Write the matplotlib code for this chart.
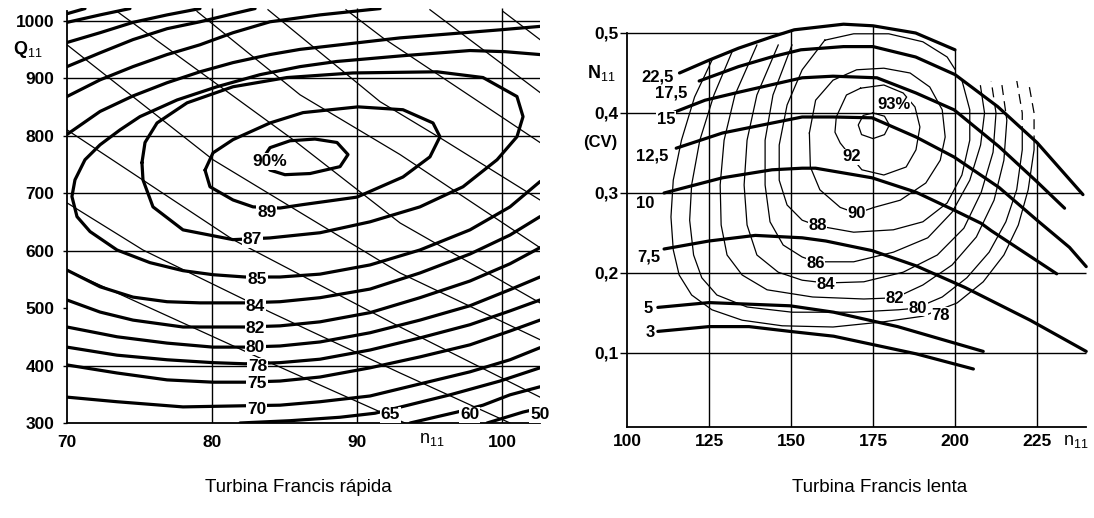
import numpy as np
import matplotlib
matplotlib.use("Agg")
import matplotlib.pyplot as plt
from matplotlib.patches import Polygon

plt.rcParams['font.family'] = ['Liberation Sans', 'DejaVu Sans']
plt.rcParams['mathtext.fontset'] = 'custom'
plt.rcParams['mathtext.rm'] = 'Liberation Sans'
plt.rcParams['mathtext.bf'] = 'Liberation Sans:bold'

# ===================== LEFT: Turbina Francis rápida =====================
left_xticks = [70, 80, 90, 100]
left_yticks = [300, 400, 500, 600, 700, 800, 900, 1000]
left_hgrid = [400, 600, 700, 800, 900, 1000]
left_vgrid = [80, 90, 100]

# closed efficiency contours (n11, Q11)
e90_n = [83.45, 84.0, 85.38, 87.10, 88.62, 89.38, 88.83, 86.76, 85.03, 84.0, 83.45]
e90_q = [758, 779, 791, 794, 788, 767, 746, 734, 732, 740, 758]
e89_n = [79.52, 80.07, 81.45, 84.0, 86.28, 90.07, 93.17, 95.24, 95.72, 95.03, 93.17, 90.0,
         86.28, 84.69, 82.83, 81.45, 79.86, 79.52]
e89_q = [740, 770, 793, 822, 840, 850, 845, 822, 798, 763, 728, 693, 680, 674, 676, 688, 711, 740]
e87_n = [75.17, 75.38, 76.21, 78.28, 81.45, 85.17, 89.72, 95.52, 98.69, 101.03, 101.45, 101.03,
         99.66, 97.31, 94.34, 90.90, 87.45, 84.0, 81.45, 78.0, 75.93, 75.24, 75.17]
e87_q = [753, 788, 822, 857, 885, 901, 909, 911, 901, 868, 833, 798, 758, 711, 676, 650, 631,
         622, 619, 636, 676, 723, 753]
e85_n = [102.62, 100.21, 97.79, 93.17, 88.62, 86.07, 83.31, 80.34, 77.59, 75.03, 73.66, 72.28,
         71.24, 70.55, 70.34, 70.69, 71.59, 73.45, 75.72, 78.0, 80.07, 82.28, 84.69, 87.45,
         90.90, 94.34, 97.79, 100.55, 102.62]
e85_q = [941, 946, 948, 939, 929, 920, 906, 885, 862, 833, 810, 784, 758, 723, 694, 659, 633,
         601, 579, 565, 558, 554, 554, 559, 575, 601, 636, 676, 720]

# open contours: upper branch and lower branch
e84_up_n = [102.62, 99.86, 96.41, 92.97, 89.52, 86.07, 84.0, 81.45, 79.17, 76.90, 74.55, 72.28, 70.0]
e84_up_q = [990, 984, 977, 970, 960, 950, 941, 927, 911, 892, 869, 842, 802]
e84_lo_n = [70.0, 72.28, 74.55, 76.90, 79.17, 82.28, 84.69, 87.45, 90.90, 94.34, 97.79, 100.55, 102.62]
e84_lo_q = [566, 537, 519, 511, 509, 509, 511, 518, 533, 561, 594, 627, 659]
e82_up_n = [91.59, 87.45, 84.0, 81.45, 79.17, 76.90, 74.55, 72.28, 70.0]
e82_up_q = [1021, 1010, 998, 979, 958, 941, 920, 897, 868]
e82_lo_n = [70.0, 72.28, 74.55, 78.0, 82.28, 84.69, 87.45, 90.90, 94.34, 97.79, 100.55, 102.62]
e82_lo_q = [514, 493, 479, 467, 467, 469, 476, 492, 518, 547, 577, 605]
e80_up_n = [82.97, 81.45, 79.17, 76.90, 74.55, 72.28, 70.0]
e80_up_q = [1021, 1012, 998, 986, 967, 944, 920]
e80_lo_n = [70.0, 73.45, 76.90, 80.07, 82.28, 84.69, 87.45, 90.90, 94.34, 97.79, 100.55, 102.62]
e80_lo_q = [467, 450, 439, 432, 432, 434, 441, 457, 479, 504, 532, 554]
e78_up_n = [79.17, 76.90, 74.55, 72.28, 70.0]
e78_up_q = [1021, 1010, 997, 979, 962]
e78_lo_n = [70.0, 73.45, 76.90, 80.07, 82.28, 84.69, 87.45, 90.90, 94.34, 97.79, 100.55, 102.62]
e78_lo_q = [432, 418, 410, 405, 403, 405, 411, 427, 448, 471, 495, 514]
e75_up_n = [74.34, 72.28, 70.0]
e75_up_q = [1021, 1010, 997]
e75_lo_n = [70.0, 73.45, 76.90, 80.07, 82.28, 84.69, 87.45, 90.90, 94.34, 97.79, 100.55, 102.62]
e75_lo_q = [401, 387, 375, 371, 371, 373, 380, 396, 415, 436, 460, 479]
e70_up_n = [71.24, 70.0]
e70_up_q = [1021, 1012]
e70_lo_n = [70.0, 73.45, 78.0, 82.28, 84.69, 87.45, 90.90, 94.34, 97.79, 100.55, 102.62]
e70_lo_q = [345, 337, 328, 330, 331, 337, 347, 368, 389, 410, 431]
e65_n = [81.93, 85.38, 88.83, 91.24, 93.52, 96.41, 99.86, 102.62]
e65_q = [300, 304, 310, 317, 331, 349, 373, 396]
e60_n = [93.66, 96.90, 98.69, 100.55, 102.62]
e60_q = [300, 319, 331, 349, 363]
e50_n = [98.97, 101.45, 102.3]
e50_q = [300, 319, 324]

# thin oblique lines
thin_a_n = [100.07, 102.62]
thin_a_q = [1016, 967]
thin_b_n = [95.03, 102.62]
thin_b_q = [1019, 875]
thin_c_n = [89.24, 91.79, 102.62]
thin_c_q = [1019, 970, 788]
thin_d_n = [83.86, 91.59, 95.93, 102.62]
thin_d_q = [1019, 859, 793, 688]
thin_e_n = [78.97, 86.07, 92.97, 102.62]
thin_e_q = [1016, 871, 767, 605]
thin_f_n = [73.45, 85.59, 92.97, 102.62]
thin_f_q = [1016, 793, 648, 509]
thin_g_n = [70.0, 80.07, 92.97, 102.62]
thin_g_q = [958, 758, 561, 445]
thin_h_n = [70.0, 81.45, 92.97, 102.62]
thin_h_q = [810, 619, 467, 345]
thin_i_n = [70.0, 75.24, 84.0, 92.97, 100.55]
thin_i_q = [683, 601, 493, 387, 300]
thin_j_n = [70.0, 84.0, 93.31]
thin_j_q = [566, 405, 300]

left_labels = ["90%", "89", "87", "85", "84", "82", "80", "78", "75", "70", "65", "60", "50"]
left_lab_n = [84.0, 83.79, 82.76, 83.1, 82.97, 82.97, 82.97, 83.17, 83.1, 83.1, 92.28, 97.79, 102.62]
left_lab_q = [755, 667, 619, 549, 502, 465, 432, 398, 368, 323, 314, 314, 314]

# ===================== RIGHT: Turbina Francis lenta =====================
right_xticks = [100, 125, 150, 175, 200, 225]
right_yticks = [0.1, 0.2, 0.3, 0.4, 0.5]

# power curves N11 (CV) vs n11
p225_n = [116, 125, 134, 144, 151, 166, 175, 188, 200]
p225_N = [0.450, 0.466, 0.481, 0.495, 0.504, 0.511, 0.509, 0.500, 0.479]
p175_n = [122, 134, 144, 153, 166, 175, 188, 200, 213, 225, 239]
p175_N = [0.440, 0.458, 0.470, 0.479, 0.483, 0.483, 0.470, 0.448, 0.408, 0.363, 0.298]
p15_n = [114.4, 123.8, 134.1, 153.4, 162.8, 176.2, 188.1, 199.7, 213.4, 225, 233.4]
p15_N = [0.401, 0.416, 0.426, 0.444, 0.446, 0.444, 0.425, 0.404, 0.358, 0.314, 0.281]
p125_n = [115, 129.1, 153.4, 162.8, 174.7, 188.1, 199.7, 213.4, 225, 234.9, 240]
p125_N = [0.356, 0.375, 0.395, 0.395, 0.394, 0.370, 0.345, 0.307, 0.266, 0.232, 0.208]
p10_n = [111.3, 129.1, 144.2, 153.4, 157.5, 174.7, 188.1, 200, 208, 211, 231]
p10_N = [0.300, 0.319, 0.329, 0.331, 0.331, 0.319, 0.301, 0.278, 0.262, 0.253, 0.199]
p75_n = [111.3, 125, 139.1, 153.4, 160.6, 174.7, 188.1, 203, 222.9, 240]
p75_N = [0.230, 0.240, 0.247, 0.244, 0.240, 0.228, 0.209, 0.182, 0.141, 0.102]
p5_n = [109.4, 125, 149.7, 163, 182.5, 208.6]
p5_N = [0.157, 0.163, 0.159, 0.151, 0.133, 0.102]
p3_n = [109.4, 125, 137.2, 149.7, 163, 188.1, 205.6]
p3_N = [0.127, 0.133, 0.133, 0.127, 0.121, 0.099, 0.080]
power_labels = ["22,5", "17,5", "15", "12,5", "10", "7,5", "5", "3"]
power_lab_n = [109.4, 113.4, 111.9, 107.8, 105.6, 106.6, 106.3, 107.2]
power_lab_N = [0.445, 0.425, 0.392, 0.346, 0.287, 0.220, 0.156, 0.126]

# efficiency rings
r93_n = [175, 178.5, 180, 178.5, 175, 171.5, 170.5, 172, 175]
r93_N = [0.400, 0.396, 0.385, 0.373, 0.368, 0.373, 0.385, 0.397, 0.400]
r92_n = [171.2, 166.9, 163.8, 163.4, 165.0, 168.4, 171.6, 178.3, 185.1, 188.1, 189.3, 187.8,
         184.2, 178.3, 171.2]
r92_N = [0.431, 0.4225, 0.395, 0.376, 0.3625, 0.345, 0.329, 0.3225, 0.3325, 0.354, 0.3825,
         0.4075, 0.425, 0.435, 0.431]
r90_n = [155.6, 157.5, 162.8, 170.0, 178.3, 186.3, 192.3, 196.1, 197.0, 195.5, 191.1, 183.3,
         175.3, 170.0, 165.0, 158.8, 155.9, 155.6]
r90_N = [0.375, 0.416, 0.441, 0.454, 0.456, 0.450, 0.4325, 0.404, 0.370, 0.341, 0.3125, 0.291,
         0.282, 0.2745, 0.282, 0.304, 0.3325, 0.375]
r88_n = [160.3, 153.4, 148.8, 146.4, 146.4, 148.8, 153.4, 158.1, 169.1, 181.2, 190.2, 197.6,
         202.1, 204.5, 204.5, 202.1, 197.6, 190.2, 179.8, 169.1, 160.3]
r88_N = [0.491, 0.454, 0.410, 0.360, 0.316, 0.285, 0.266, 0.259, 0.251, 0.254, 0.264, 0.2875,
         0.3225, 0.366, 0.404, 0.441, 0.470, 0.489, 0.499, 0.499, 0.491]
r86_n = [150.3, 144.5, 142.1, 142.1, 143.6, 147.6, 153.4, 157.5, 169.1, 181.2, 191.7, 199.1,
         204.5, 207.8, 209.0, 207.5, 203.6, 197.6, 190.2]
r86_N = [0.485, 0.4225, 0.366, 0.310, 0.264, 0.235, 0.220, 0.214, 0.214, 0.226, 0.244, 0.276,
         0.316, 0.360, 0.400, 0.441, 0.4725, 0.4975, 0.514]
r84_n = [146.1, 139.6, 136.6, 135.7, 136.6, 139.6, 146.1, 153.4, 160.6, 172.2, 184.2, 194.6,
         202.7, 208.0, 211.6, 212.5, 211.0, 207.5, 202.1]
r84_N = [0.485, 0.4225, 0.366, 0.310, 0.260, 0.2225, 0.201, 0.191, 0.1875, 0.189, 0.201, 0.2225,
         0.256, 0.301, 0.351, 0.400, 0.441, 0.479, 0.510]
r82_n = [139.6, 132.9, 129.6, 128.4, 128.7, 130.5, 135.1, 142.7, 156.6, 172.2, 181.8, 190.2,
         199.1, 206.5, 211.9, 214.9, 215.8, 214.3, 211.0, 205.7]
r82_N = [0.485, 0.4225, 0.366, 0.310, 0.260, 0.2225, 0.1975, 0.179, 0.170, 0.1675, 0.169, 0.185,
         0.210, 0.245, 0.291, 0.341, 0.391, 0.435, 0.4725, 0.504]
r80_n = [132.9, 126.5, 122.2, 119.7, 119.1, 120.3, 122.8, 127.4, 136.6, 150.3, 169.1, 182.7,
         188.1, 196.1, 203.6, 210.4, 215.5, 218.8, 220.5, 220.5, 218.8, 214.9, 209.5]
r80_N = [0.485, 0.4225, 0.366, 0.310, 0.266, 0.2225, 0.194, 0.1725, 0.1575, 0.151, 0.151, 0.154,
         0.156, 0.170, 0.194, 0.226, 0.264, 0.304, 0.354, 0.400, 0.441, 0.479, 0.510]
r78_n = [127.4, 120.6, 116.6, 114.1, 113.4, 114.1, 115.9, 119.7, 125.9, 135.1, 147.3, 162.8,
         178.3, 190.2, 200.6, 208.6, 214.9, 219.3, 222.3, 224.1, 224.1, 222.3, 218.4, 212.5]
r78_N = [0.479, 0.420, 0.366, 0.316, 0.270, 0.229, 0.1975, 0.1725, 0.154, 0.141, 0.134, 0.1325,
         0.139, 0.146, 0.1625, 0.189, 0.2225, 0.260, 0.304, 0.354, 0.400, 0.441, 0.479, 0.510]
ring_labels = ["93%", "92", "90", "88", "86", "84", "82", "80", "78"]
ring_lab_n = [181.3, 168.4, 170.0, 158.1, 157.5, 160.6, 181.5, 188.7, 195.5]
ring_lab_N = [0.410, 0.345, 0.274, 0.259, 0.212, 0.186, 0.168, 0.156, 0.147]

# ---------------------------------------------------------------------
K = 'black'
THICK = 2.3
THIN = 0.9
GRID = 1.0
LABFS = 12.5

fig = plt.figure(figsize=(10.94, 5.18), dpi=100)
fig.patch.set_facecolor('white')

# ------------------------- left chart -------------------------------
axL = fig.add_axes([0.06124, 0.18340, 0.43236, 0.80116])
axL.set_xlim(70, 102.62)
axL.set_ylim(300, 1022)
for s in ['top', 'right']:
    axL.spines[s].set_visible(False)
for s in ['left', 'bottom']:
    axL.spines[s].set_linewidth(1.3)
axL.spines['left'].set_bounds(300, 1017)
axL.hlines(left_hgrid, 70, 102.62, color=K, lw=GRID)
axL.vlines(left_vgrid, 300, 1022, color=K, lw=GRID)

thin_lines = [(thin_a_n, thin_a_q), (thin_b_n, thin_b_q), (thin_c_n, thin_c_q),
              (thin_d_n, thin_d_q), (thin_e_n, thin_e_q), (thin_f_n, thin_f_q),
              (thin_g_n, thin_g_q), (thin_h_n, thin_h_q), (thin_i_n, thin_i_q),
              (thin_j_n, thin_j_q)]
for xs, ys in thin_lines:
    axL.plot(xs, ys, color=K, lw=THIN, solid_joinstyle='round')

left_curves = [(e90_n, e90_q), (e89_n, e89_q), (e87_n, e87_q), (e85_n, e85_q),
               (e84_up_n, e84_up_q), (e84_lo_n, e84_lo_q),
               (e82_up_n, e82_up_q), (e82_lo_n, e82_lo_q),
               (e80_up_n, e80_up_q), (e80_lo_n, e80_lo_q),
               (e78_up_n, e78_up_q), (e78_lo_n, e78_lo_q),
               (e75_up_n, e75_up_q), (e75_lo_n, e75_lo_q),
               (e70_up_n, e70_up_q), (e70_lo_n, e70_lo_q),
               (e65_n, e65_q), (e60_n, e60_q), (e50_n, e50_q)]
for xs, ys in left_curves:
    axL.plot(xs, ys, color=K, lw=THICK, solid_capstyle='round', solid_joinstyle='round')

for t, x, y in zip(left_labels, left_lab_n, left_lab_q):
    axL.text(x, y, t, ha='center', va='center', fontsize=LABFS, fontweight='bold',
             bbox=dict(fc='white', ec='none', pad=0.6), zorder=6, clip_on=False)

axL.set_xticks(left_xticks)
axL.set_xticklabels([str(v) for v in left_xticks], fontsize=LABFS, fontweight='bold')
axL.set_yticks(left_yticks)
axL.set_yticklabels([str(v) for v in left_yticks], fontsize=LABFS, fontweight='bold')
axL.tick_params(axis='x', length=0, pad=9)
axL.tick_params(axis='y', length=3, width=1, pad=6)
fig.text(28 / 1094, 1 - 50 / 518, r'$\mathbf{Q}_{\mathregular{11}}$', fontsize=13,
         ha='center', va='center')
fig.text(432 / 1094, 1 - 440 / 518, r'$\mathregular{n_{11}}$', fontsize=13,
         ha='center', va='center')

# ------------------------- right chart ------------------------------
axR = fig.add_axes([0.57313, 0.17568, 0.42276, 0.78533])
axR.set_xlim(100, 241)
axR.set_ylim(0.0075, 0.516)
for s in ['top', 'right']:
    axR.spines[s].set_visible(False)
for s in ['left', 'bottom']:
    axR.spines[s].set_linewidth(1.3)
axR.spines['left'].set_bounds(0.0075, 0.5)
axR.spines['bottom'].set_bounds(100, 240)


def first_cross(xs, ys, level):
    for i in range(len(xs) - 1):
        if (ys[i] - level) * (ys[i + 1] - level) <= 0 and ys[i] != ys[i + 1]:
            t = (level - ys[i]) / (ys[i + 1] - ys[i])
            return xs[i] + t * (xs[i + 1] - xs[i])
    return None


# grid lines bounded by the envelope
for x in right_xticks[1:]:
    if x <= 200:
        top = np.interp(x, p225_n, p225_N)
    else:
        top = np.interp(x, p175_n, p175_N)
    axR.vlines(x, 0.0075, top, color=K, lw=GRID)
for y in right_yticks:
    if y >= 0.5:
        xe = first_cross(p225_n, p225_N, y)
    else:
        xe = first_cross(p175_n[5:], p175_N[5:], y)
    if xe is None:
        xe = 240
    axR.hlines(y, 100, xe, color=K, lw=GRID)

# clip regions for the efficiency rings
N175_at200 = np.interp(200, p175_n, p175_N)
tail = [(a, b) for a, b in zip(p175_n, p175_N) if a > 200]
solid_verts = ([(100, 0.0), (100, 0.45)] + list(zip(p225_n, p225_N)) +
               [(200, N175_at200)] + tail + [(241, 0.298), (241, 0.0)])
dash_verts = [(200, N175_at200)] + tail + [(241, 0.298), (241, 0.44), (200, 0.44)]
solid_clip = Polygon(solid_verts, closed=True, transform=axR.transData)
dash_clip = Polygon(dash_verts, closed=True, transform=axR.transData)

rings = [(r93_n, r93_N), (r92_n, r92_N), (r90_n, r90_N), (r88_n, r88_N), (r86_n, r86_N),
         (r84_n, r84_N), (r82_n, r82_N), (r80_n, r80_N), (r78_n, r78_N)]
for xs, ys in rings:
    ln, = axR.plot(xs, ys, color=K, lw=THIN)
    ln.set_clip_path(solid_clip)
    ld, = axR.plot(xs, ys, color=K, lw=THIN, ls=(0, (8, 5)))
    ld.set_clip_path(dash_clip)

power_curves = [(p225_n, p225_N), (p175_n, p175_N), (p15_n, p15_N), (p125_n, p125_N),
                (p10_n, p10_N), (p75_n, p75_N), (p5_n, p5_N), (p3_n, p3_N)]
for xs, ys in power_curves:
    axR.plot(xs, ys, color=K, lw=THICK, solid_capstyle='round', solid_joinstyle='round',
             zorder=4)

for t, x, y in zip(power_labels, power_lab_n, power_lab_N):
    axR.text(x, y, t, ha='center', va='center', fontsize=12, fontweight='bold',
             bbox=dict(fc='white', ec='none', pad=0.4), zorder=6)
for t, x, y in zip(ring_labels, ring_lab_n, ring_lab_N):
    axR.text(x, y, t, ha='center', va='center', fontsize=12, fontweight='bold',
             bbox=dict(fc='white', ec='none', pad=0.4), zorder=6)

axR.set_xticks(right_xticks)
axR.set_xticklabels([str(v) for v in right_xticks], fontsize=LABFS, fontweight='bold')
axR.set_yticks(right_yticks)
axR.set_yticklabels([('%.1f' % v).replace('.', ',') for v in right_yticks],
                    fontsize=LABFS, fontweight='bold')
axR.tick_params(axis='x', length=0, pad=5)
axR.tick_params(axis='y', length=5, width=1, pad=1)
fig.text(601 / 1094, 1 - 73 / 518, r'$\mathbf{N}_{\mathregular{11}}$', fontsize=13,
         ha='center', va='center')
fig.text(600 / 1094, 1 - 143 / 518, '(CV)', fontsize=12, fontweight='bold',
         ha='center', va='center')
fig.text(1076 / 1094, 1 - 442 / 518, r'$\mathregular{n_{11}}$', fontsize=13,
         ha='center', va='center')

# captions
fig.text(298 / 1094, 1 - 488 / 518, 'Turbina Francis rápida', fontsize=13.5,
         ha='center', va='center')
fig.text(880 / 1094, 1 - 488 / 518, 'Turbina Francis lenta', fontsize=13.5,
         ha='center', va='center')

fig.savefig('out.png', dpi=100, facecolor='white')
